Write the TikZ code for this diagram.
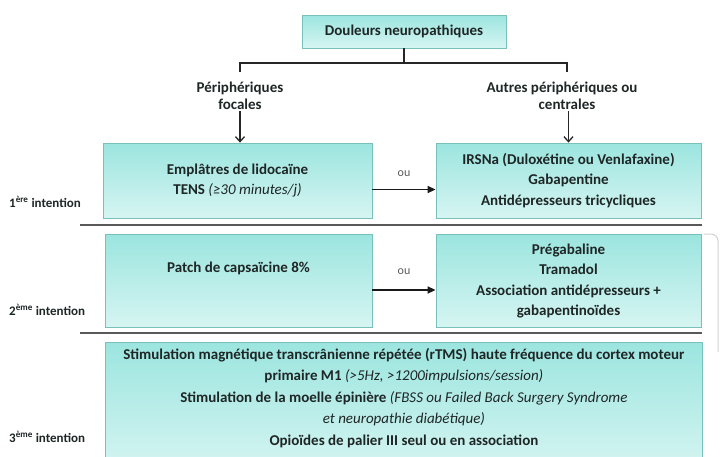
\documentclass[tikz,border=0pt]{standalone}
\usepackage{fontspec}
\setmainfont{Carlito}
\usepackage{xcolor}
\usetikzlibrary{positioning, arrows.meta, calc}

\definecolor{boxtop}{RGB}{156,229,223}
\definecolor{boxbot}{RGB}{214,245,242}
\definecolor{boxline}{RGB}{122,192,186}
\definecolor{txtcol}{RGB}{30,38,38}

\newcommand\boxfont{\fontsize{15}{20.5}\selectfont\bfseries}
\newcommand\ital[1]{\textnormal{\itshape #1}}

\begin{document}
\begin{tikzpicture}[x=1pt, y=-1pt,
  box/.style={draw=boxline, line width=0.8pt, top color=boxtop, bottom color=boxbot,
    align=center, font=\boxfont, text=txtcol, inner sep=2pt},
  rootbox/.style={box, minimum width=204, minimum height=33},
  branch/.style={align=center, font=\fontsize{15}{16.5}\selectfont\bfseries, text=txtcol, inner sep=1pt},
  rank/.style={font=\fontsize{13}{15}\selectfont\bfseries, text=txtcol, anchor=west, inner sep=0pt},
  tree/.style={line width=1.5pt, black!85},
  down/.style={line width=1.3pt, black!85, -{Straight Barb[length=5pt, width=9pt]}},
  ouarrow/.style={line width=1.5pt, black!90, -{Triangle[length=8pt, width=7pt]}},
  oulbl/.style={font=\fontsize{12}{14}\selectfont, text=black!65, inner sep=1pt},
  sep/.style={line width=1.6pt, black!65}
]
\path[use as bounding box, clip] (0,0) rectangle (720,456);

% Racine et branches
\node[rootbox] (root) at (404,31.5) {Douleurs neuropathiques};
\coordinate (jl) at (240,63);
\coordinate (jr) at (567,63);
\node[branch] (focal) at (240,96) {Périphériques\\focales};
\node[branch] (autres) at (562,96) {Autres périphériques ou\\\hspace*{10pt}centrales};
\draw[tree] (root) -- (root |- jl);
\draw[tree] ([yshift=-9pt]jl) -- (jl) -- (jr) -- ([yshift=-9pt]jr);

% 1ere intention
\node[box, minimum width=269, minimum height=75] (b1l) at (237.5,180.5)
  {Emplâtres de lidocaïne\\TENS \ital{(≥30 minutes/j)}};
\node[box, minimum width=265, minimum height=75] (b1r) at (568.5,180.5)
  {IRSNa (Duloxétine ou Venlafaxine)\\Gabapentine\\Antidépresseurs tricycliques};
\draw[down] (focal.south) -- (focal.south |- b1l.north);
\draw[down] (b1r.north |- autres.south) -- (b1r.north);
\draw[ouarrow] ([yshift=-9pt]b1l.east) -- ([yshift=-9pt]b1l.east -| b1r.west)
  node[midway, above=11pt, oulbl] (ou1) {ou};
\node[rank] (r1) at (9,202) {1\textsuperscript{ère} intention};

\draw[sep] (80,225) -- (702,225);

% 2eme intention
\node[box, minimum width=267, minimum height=93, text depth=28pt] (b2l) at (238.5,281)
  {Patch de capsaïcine 8\%};
\node[box, minimum width=265, minimum height=93] (b2r) at (568.5,281)
  {Prégabaline\\Tramadol\\Association antidépresseurs +\\gabapentinoïdes};
\draw[ouarrow] ([yshift=-9pt]b2l.east) -- ([yshift=-9pt]b2l.east -| b2r.west)
  node[midway, above=14pt, oulbl] (ou2) {ou};
\node[rank] (r2) at (9,310) {2\textsuperscript{ème} intention};

\draw[sep] (80,333) -- (702,333);

% 3eme intention
\node[box, minimum width=597, minimum height=130, anchor=north west] (b3) at (105,342) {};
\node[align=center, font=\fontsize{15}{21.5}\selectfont\bfseries, text=txtcol, anchor=north, inner sep=0pt] (b3txt) at ([yshift=-6pt]b3.north)
  {Stimulation magnétique transcrânienne répétée (rTMS) haute fréquence du cortex moteur\\
   primaire M1 \ital{(>5Hz, >1200impulsions/session)}\\
   Stimulation de la moelle épinière \ital{(FBSS ou Failed Back Surgery Syndrome}\\
   \ital{et neuropathie diabétique)}\\
   Opioïdes de palier III seul ou en association};
\node[rank] (r3) at (9,437) {3\textsuperscript{ème} intention};

% bord coupe a droite
\draw[gray!35, line width=1pt, rounded corners=7pt] (704,234) -- (718,234) -- (718,352);
\end{tikzpicture}
\end{document}
